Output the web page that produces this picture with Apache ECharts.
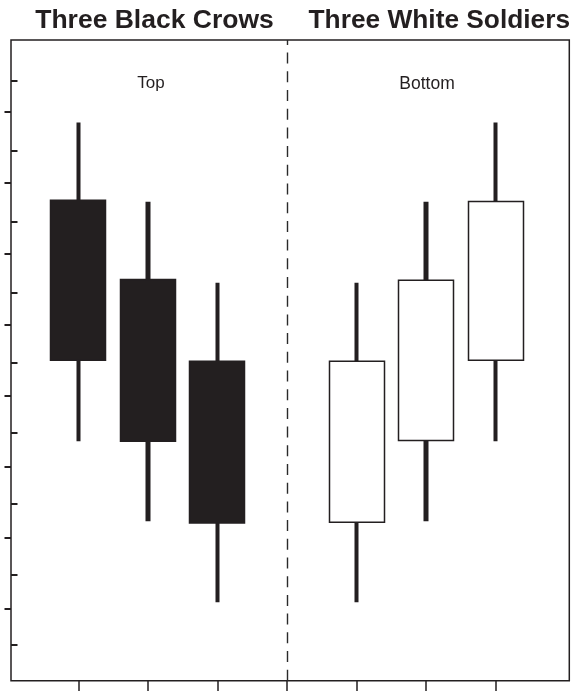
<!DOCTYPE html>
<html>
<head>
<meta charset="utf-8">
<title>Three Black Crows / Three White Soldiers</title>
<script src="https://cdn.jsdelivr.net/npm/echarts@6/dist/echarts.min.js"></script>
<style>
html,body{margin:0;padding:0;background:#fff;}
#main{width:571px;height:691px;}
</style>
</head>
<body>
<div id="main"></div>
<script>
var cats=['C1','C2','C3','Mid','S1','S2','S3'];
var open =[6.0, 5.01,3.99,'-',1.98,3.0, 4.0];
var close=[4.0, 2.99,1.97,'-',3.99,5.0, 5.985];
var low  =[2.99,1.99,0.98,'-',0.98,1.99,2.99];
var high =[6.97,5.98,4.97,'-',4.97,5.98,6.97];
var innerTicks=[0.454,1.328,2.21,3.093,3.97,4.85,5.731,6.614,7.492];
var outerTicks=[0.899,1.782,2.668,3.555,4.441,5.328,6.214,7.101];
var ink='#231f20';
var font="'Liberation Sans', Arial, Helvetica, sans-serif";

var wickData=[],bodyData=[];
for(var i=0;i<cats.length;i++){
	if(open[i]==='-'){
		wickData.push('-');
		bodyData.push('-');
		continue;
	}
	wickData.push([low[i],high[i],low[i],high[i]]);
	bodyData.push([open[i],close[i],Math.min(open[i],close[i]),Math.max(open[i],close[i])]);
}

var myChart=echarts.init(document.getElementById('main'));
var option={
	animation:false,
	backgroundColor:'#fff',
	graphic:[
		{type:'text',x:154.5,y:20.5,style:{text:'Three Black Crows',font:'bold 26.5px '+font,fill:ink,textAlign:'center',textVerticalAlign:'middle'}},
		{type:'text',x:439.3,y:20.5,style:{text:'Three White Soldiers',font:'bold 26.3px '+font,fill:ink,textAlign:'center',textVerticalAlign:'middle'}},
		{type:'text',x:151,y:83.5,style:{text:'Top',font:'17px '+font,fill:ink,textAlign:'center',textVerticalAlign:'middle'}},
		{type:'text',x:427,y:84,style:{text:'Bottom',font:'17.5px '+font,fill:ink,textAlign:'center',textVerticalAlign:'middle'}}
	],
	grid:[
		// frame
		{left:11,right:1.7,top:40,bottom:10.3,show:true,borderColor:ink,borderWidth:1.5,backgroundColor:'transparent'},
		// candles
		{left:43.5,width:487,top:40,bottom:10.3}
	],
	xAxis:[
		{gridIndex:0,type:'value',min:0,max:1,show:false},
		{
			gridIndex:1,type:'category',data:cats,boundaryGap:true,position:'bottom',
			axisLine:{show:false},
			axisTick:{show:true,alignWithLabel:true,interval:0,length:10.5,lineStyle:{color:ink,width:1.5}},
			axisLabel:{show:false,interval:0},
			splitLine:{show:false}
		}
	],
	yAxis:[
		{
			gridIndex:0,type:'value',min:0,max:8,position:'left',offset:0,
			axisLine:{show:false},
			axisTick:{show:true,inside:true,length:6.5,customValues:innerTicks,lineStyle:{color:ink,width:2}},
			axisLabel:{show:false},
			splitLine:{show:false}
		},
		{
			gridIndex:0,type:'value',min:0,max:8,position:'left',offset:0,
			axisLine:{show:false},
			axisTick:{show:true,inside:false,length:6.5,customValues:outerTicks,lineStyle:{color:ink,width:2}},
			axisLabel:{show:false},
			splitLine:{show:false}
		},
		{gridIndex:1,type:'value',min:0,max:8,show:false}
	],
	series:[
		{
			name:'wick',type:'candlestick',xAxisIndex:1,yAxisIndex:2,
			data:wickData,barWidth:5,
			itemStyle:{color:ink,color0:ink,borderColor:ink,borderColor0:ink,borderWidth:0},
			markLine:{
				silent:true,symbol:['none','none'],
				label:{show:false},
				lineStyle:{color:'#2a2a2a',width:1.4,type:[11,7.7]},
				data:[{xAxis:'Mid'}]
			}
		},
		{
			name:'body',type:'candlestick',xAxisIndex:1,yAxisIndex:2,
			data:bodyData,barWidth:55.5,
			itemStyle:{color:'#fff',color0:ink,borderColor:ink,borderColor0:ink,borderWidth:1.5}
		}
	]
};
myChart.setOption(option);
window.onresize=myChart.resize;
</script>
</body>
</html>
